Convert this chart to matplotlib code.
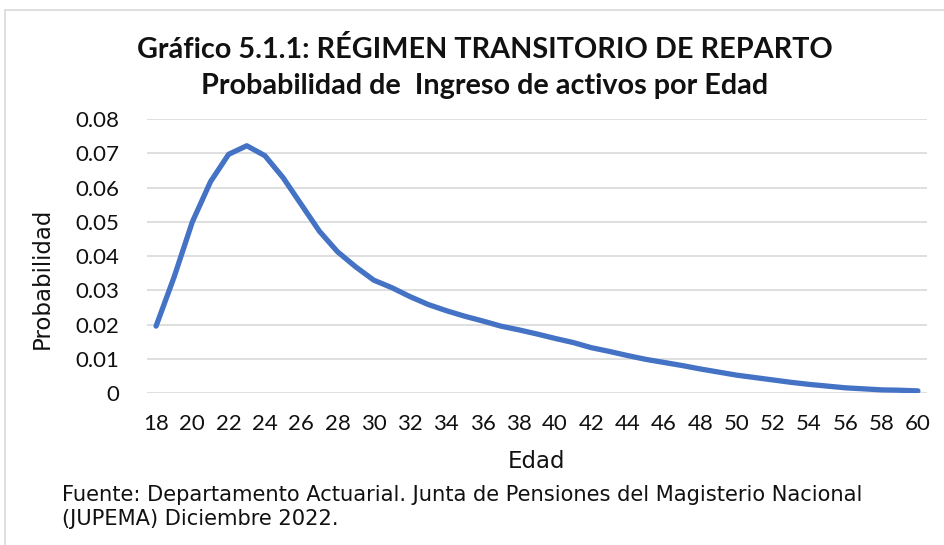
import matplotlib
matplotlib.use("Agg")
import matplotlib.pyplot as plt
from matplotlib.patches import Rectangle

edades = list(range(18, 61))
probabilidad = [0.0196, 0.0340, 0.0500, 0.0617, 0.0697, 0.0722, 0.0693, 0.0629,
                0.0551, 0.0473, 0.0413, 0.0369, 0.0330, 0.0308, 0.0282, 0.0259,
                0.0241, 0.0225, 0.0211, 0.0196, 0.0185, 0.0173, 0.0160, 0.0148,
                0.0133, 0.0122, 0.0110, 0.0099, 0.0090, 0.0081, 0.0071, 0.0062,
                0.0053, 0.0046, 0.0039, 0.0032, 0.0026, 0.0021, 0.0016, 0.0013,
                0.0010, 0.0009, 0.0007]
xticks = list(range(18, 61, 2))
yticks = [0, 0.01, 0.02, 0.03, 0.04, 0.05, 0.06, 0.07, 0.08]
ytick_labels = ["0", "0.01", "0.02", "0.03", "0.04", "0.05", "0.06", "0.07", "0.08"]
titulo1 = "Gráfico 5.1.1: RÉGIMEN TRANSITORIO DE REPARTO"
titulo2 = "Probabilidad de  Ingreso de activos por Edad"
fuente = "Fuente: Departamento Actuarial. Junta de Pensiones del Magisterio Nacional\n(JUPEMA) Diciembre 2022."

plt.rcParams['font.family'] = ['Lato', 'DejaVu Sans']
W, H = 944, 545
fig = plt.figure(figsize=(W / 100, H / 100), dpi=100)
fig.patches.append(Rectangle((5 / W, -0.1), 1.2, 1 - 10 / H + 0.1, transform=fig.transFigure,
                             fill=False, edgecolor="#D9D9D9", linewidth=1.2))

ax = fig.add_axes([147 / W, 1 - 393.3 / H, (927 - 147) / W, (393.3 - 119) / H])
ax.plot(edades, probabilidad, color="#4472C4", linewidth=3.8, solid_capstyle="round",
        solid_joinstyle="round", zorder=3)
ax.set_xlim(17.5, 60.5)
ax.set_ylim(0, 0.08)
ax.set_xticks(xticks)
ax.set_xticklabels([str(t) for t in xticks])
ax.set_yticks(yticks)
ax.set_yticklabels(ytick_labels)
ax.tick_params(length=0, labelsize=16, colors="#111111", pad=20)
ax.tick_params(axis="x", pad=15)
ax.grid(axis="y", color="#D9D9D9", linewidth=1.2)
ax.set_axisbelow(True)
for s in ax.spines.values():
    s.set_visible(False)

fig.text(537 / W, 1 - 462 / H, "Edad", ha="center", va="center", fontsize=16.5,
         color="#111111", family=["DejaVu Sans"])
fig.text(42 / W, 1 - 278 / H, "Probabilidad", ha="center", va="center", rotation=90,
         fontsize=16.5, color="#111111", family=["DejaVu Sans"])
fig.text(485 / W, 1 - 50 / H, titulo1, ha="center", va="center", fontsize=20.7,
         fontweight="bold", color="#111111")
fig.text(485 / W, 1 - 86 / H, titulo2, ha="center", va="center", fontsize=20.7,
         fontweight="bold", color="#111111")
fig.text(62 / W, 1 - 507 / H, fuente, ha="left", va="center", fontsize=15.1,
         color="#111111", linespacing=1.2, family=["DejaVu Sans"])

fig.savefig("out.png", dpi=100, facecolor="white")
